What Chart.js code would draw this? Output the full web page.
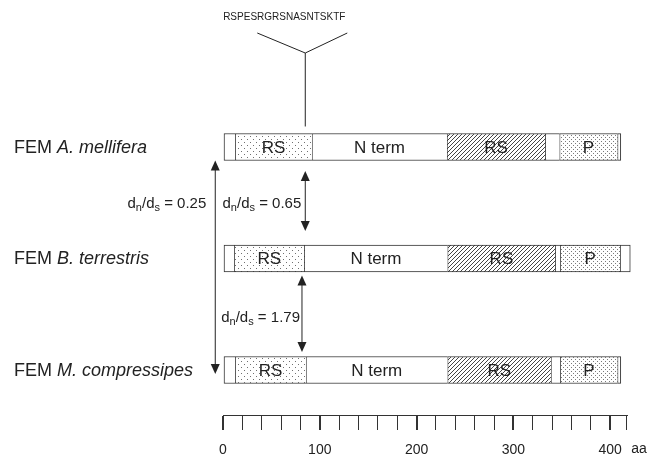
<!DOCTYPE html>
<html><head><meta charset="utf-8">
<script src="https://cdn.jsdelivr.net/npm/chart.js@4"></script>
<style>html,body{margin:0;padding:0;background:#fff}#wrap{width:651px;height:459px;position:relative}</style>
</head><body><div id="wrap"><canvas id="c"></canvas></div>
<script>
// ---- data ----
const speciesPrefix = 'FEM ';
const speciesNames = ['A. mellifera', 'B. terrestris', 'M. compressipes'];
const segmentLabels = ['', 'RS', 'N term', 'RS', '', 'P', ''];
const segmentKinds = ['plain', 'dots', 'plain', 'hatch', 'plain', 'pdots', 'plain'];
const melliferaBounds = [0, 12.7, 91.9, 231.4, 333.0, 347.7, 407.6, 411.0];
const terrestrisBounds = [0, 11.7, 84.0, 232.0, 343.3, 348.5, 410.4, 420.8];
const compressipesBounds = [0, 12.7, 85.7, 232.0, 338.8, 348.5, 407.6, 411.0];
const insertSequence = 'RSPESRGRSNASNTSKTF';
const insertSite = 85;
const dndsPairs = [[0, 1], [1, 2], [0, 2]];
const dndsValues = ['0.65', '1.79', '0.25'];
const axisTicks = [0, 20, 40, 60, 80, 100, 120, 140, 160, 180, 200, 220, 240, 260, 280, 300, 320, 340, 360, 380, 400, 417];
const axisLabels = [0, 100, 200, 300, 400];
const axisUnit = 'aa';

const rowBounds = [melliferaBounds, terrestrisBounds, compressipesBounds];

// ---- patterns ----
function makePattern(kind) {
  const c = document.createElement('canvas');
  const g = c.getContext('2d');
  if (kind === 'dots') {
    c.width = 6; c.height = 6;
    g.fillStyle = '#fff'; g.fillRect(0, 0, 6, 6);
    g.fillStyle = '#707070'; g.fillRect(1, 1, 1, 1); g.fillRect(4, 4, 1, 1);
  } else if (kind === 'pdots') {
    c.width = 4; c.height = 4;
    g.fillStyle = '#fff'; g.fillRect(0, 0, 4, 4);
    g.fillStyle = '#7a7a7a'; g.fillRect(1, 1, 1, 1); g.fillRect(3, 3, 1, 1);
  } else if (kind === 'hatch') {
    c.width = 4; c.height = 4;
    g.fillStyle = '#fff'; g.fillRect(0, 0, 4, 4);
    g.strokeStyle = '#444'; g.lineWidth = 1;
    g.beginPath();
    g.moveTo(-1, 5); g.lineTo(5, -1);
    g.moveTo(-1, 1); g.lineTo(1, -1);
    g.moveTo(3, 5); g.lineTo(5, 3);
    g.stroke();
  } else {
    return '#ffffff';
  }
  return g.createPattern(c, 'repeat');
}
const fills = {};
['plain', 'dots', 'pdots', 'hatch'].forEach(k => fills[k] = makePattern(k));

const nSeg = segmentLabels.length;
const datasets = segmentLabels.map((lab, k) => ({
  label: lab || ('seg' + k),
  data: rowBounds.map((b, r) => ({ x: [b[k], b[k + 1]], y: r })),
  backgroundColor: fills[segmentKinds[k]],
  borderColor: '#333',
  borderWidth: { top: 1, bottom: 1, left: 1, right: k === nSeg - 1 ? 1 : 0 },
  borderSkipped: false,
  grouped: false,
  barThickness: 27,
  clip: false
}));

const FONT = '"Liberation Sans", Arial, sans-serif';

function arrowHead(ctx, x, y, dir) {
  ctx.beginPath();
  ctx.moveTo(x, y);
  ctx.lineTo(x - 4.5, y - dir * 10);
  ctx.lineTo(x + 4.5, y - dir * 10);
  ctx.closePath();
  ctx.fill();
}
function dblArrow(ctx, x, y1, y2) {
  ctx.beginPath();
  ctx.moveTo(x, y1 + 8);
  ctx.lineTo(x, y2 - 8);
  ctx.stroke();
  arrowHead(ctx, x, y1, -1);
  arrowHead(ctx, x, y2, 1);
}
function dndsLabel(ctx, xRight, yMid, val) {
  const big = '15px ' + FONT, small = '11px ' + FONT;
  const parts = [['d', big, 0], ['n', small, 3], ['/d', big, 0], ['s', small, 3], [' = ' + val, big, 0]];
  let w = 0;
  parts.forEach(p => { ctx.font = p[1]; w += ctx.measureText(p[0]).width; });
  let x = xRight - w;
  const base = yMid + 5.5;
  ctx.textAlign = 'left'; ctx.textBaseline = 'alphabetic';
  parts.forEach(p => { ctx.font = p[1]; ctx.fillText(p[0], x, base + p[2]); x += ctx.measureText(p[0]).width; });
}

const annot = {
  id: 'annot',
  afterDatasetsDraw(chart) {
    const ctx = chart.ctx;
    const xs = chart.scales.x, ys = chart.scales.y;
    const half = 13.5;
    const rowY = r => ys.getPixelForValue(r);
    ctx.save();
    ctx.fillStyle = '#222';
    // segment labels
    ctx.font = '17px ' + FONT; ctx.textAlign = 'center'; ctx.textBaseline = 'middle';
    rowBounds.forEach((b, r) => {
      segmentLabels.forEach((lab, k) => {
        if (!lab) return;
        const cx = (xs.getPixelForValue(b[k]) + xs.getPixelForValue(b[k + 1])) / 2;
        ctx.fillText(lab, cx, rowY(r) + 1);
      });
    });
    // row labels
    speciesNames.forEach((nm, r) => {
      const y = rowY(r) + 1;
      ctx.textAlign = 'left'; ctx.textBaseline = 'middle';
      ctx.font = '18px ' + FONT;
      ctx.fillText(speciesPrefix, 14, y);
      const w = ctx.measureText(speciesPrefix).width;
      ctx.font = 'italic 18px ' + FONT;
      ctx.fillText(nm, 14 + w, y);
    });
    // insertion marker
    ctx.strokeStyle = '#222'; ctx.lineWidth = 1;
    const ix = xs.getPixelForValue(insertSite);
    ctx.beginPath();
    ctx.moveTo(ix, rowY(0) - half - 7); ctx.lineTo(ix, 53);
    ctx.moveTo(ix - 48, 33); ctx.lineTo(ix, 53); ctx.lineTo(ix + 42, 33);
    ctx.stroke();
    ctx.font = '10px ' + FONT; ctx.textAlign = 'center'; ctx.textBaseline = 'middle';
    ctx.fillText(insertSequence, ix - 21, 17);
    // dn/ds arrows
    const arrowX = [85, 81.6, -8];
    dndsPairs.forEach((p, i) => {
      const x = xs.getPixelForValue(arrowX[i]);
      let y1, y2, ly, lx;
      if (i === 0) { y1 = rowY(p[0]) + half + 10.5; y2 = rowY(p[1]) - half - 14; ly = (y1 + y2) / 2 + 2; lx = x - 4; }
      else if (i === 1) { y1 = rowY(p[0]) + half + 3.5; y2 = rowY(p[1]) - half - 4.5; ly = (y1 + y2) / 2 + 2.5; lx = x - 2; }
      else { y1 = rowY(p[0]) + half; y2 = rowY(p[1]) + 4; lx = x - 9; ly = (rowY(0) + half + 10.5 + rowY(1) - half - 14) / 2 + 2; }
      dblArrow(ctx, x, y1, y2);
      dndsLabel(ctx, lx, ly, dndsValues[i]);
    });
    // axis unit
    ctx.font = '14px ' + FONT; ctx.textAlign = 'left'; ctx.textBaseline = 'top';
    ctx.fillText(axisUnit, xs.getPixelForValue(axisLabels[axisLabels.length - 1]) + 21, chart.chartArea.bottom + 15 + 12);
    ctx.restore();
  }
};

new Chart(document.getElementById('c'), {
  type: 'bar',
  data: { datasets },
  options: {
    indexAxis: 'y',
    responsive: true,
    maintainAspectRatio: false,
    animation: false,
    layout: { padding: { left: 223, right: 24.4, top: 10, bottom: 0 } },
    plugins: { legend: { display: false }, tooltip: { enabled: false } },
    scales: {
      x: {
        type: 'linear', position: 'bottom', min: 0, max: 417,
        afterBuildTicks: s => { s.ticks = axisTicks.map(v => ({ value: v })); },
        afterFit: s => { s.height = 44; },
        ticks: {
          autoSkip: false, maxRotation: 0, padding: 12, color: '#222',
          font: { size: 14, family: FONT },
          callback: v => axisLabels.includes(v) ? String(v) : ''
        },
        grid: {
          drawOnChartArea: false, drawTicks: true, tickLength: 15, color: '#333',
          lineWidth: c => (c.tick && axisLabels.includes(c.tick.value)) ? 2 : 1
        },
        border: { display: true, color: '#333', width: 1 }
      },
      y: {
        type: 'linear', reverse: true, offset: false, min: -1.2287, max: 2.4036, display: false
      }
    }
  },
  plugins: [annot]
});
</script>
</body></html>
